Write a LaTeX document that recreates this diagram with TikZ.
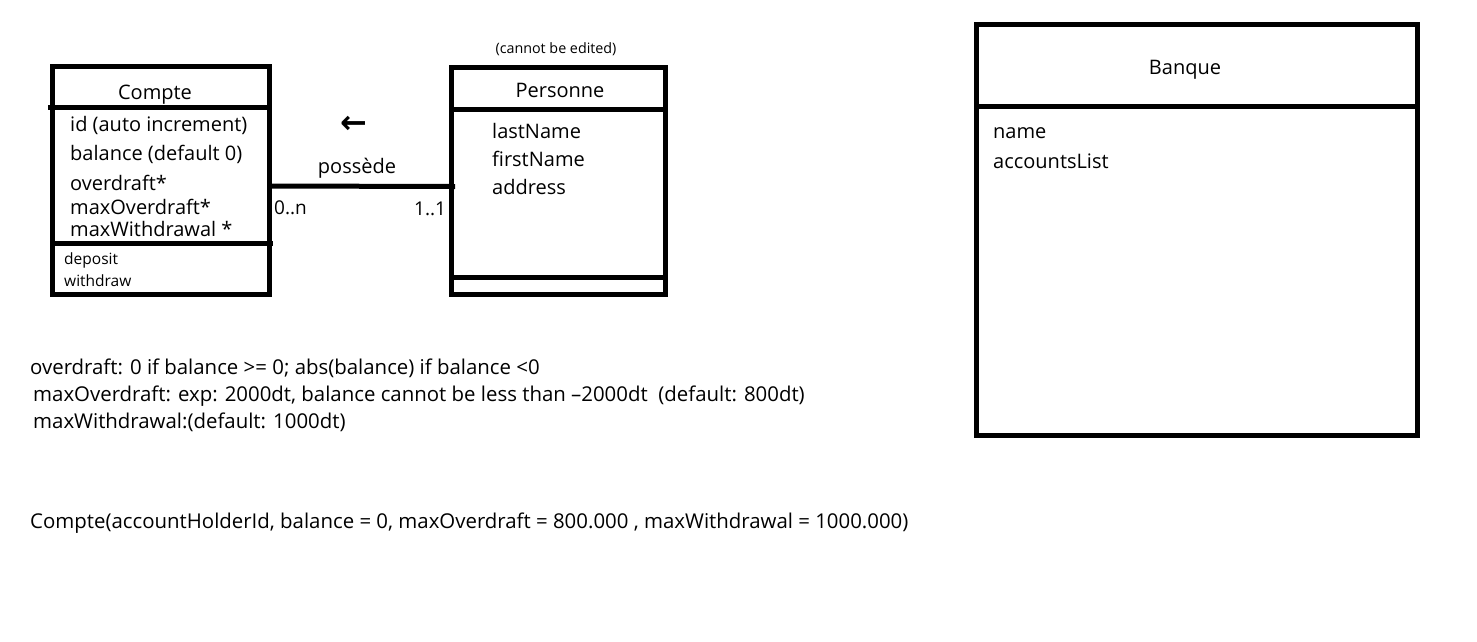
\documentclass[tikz,border=0pt]{standalone}
\usepackage{fontspec}
\setmainfont{Open Sans}
\newfontfamily\symfont{DejaVu Sans}
\begin{document}
\begin{tikzpicture}[x=1pt,y=-1pt,
  umlbox/.style={draw,line width=5pt,rectangle,inner sep=0pt,outer sep=0pt,anchor=north west},
  divider/.style={line width=5pt},
  assoc/.style={line width=5pt},
  title/.style={inner sep=0pt,font=\fontsize{20}{23}\selectfont},
  attr/.style={inner sep=0pt,anchor=west,font=\fontsize{20}{23}\selectfont},
  meth/.style={inner sep=0pt,anchor=west,font=\fontsize{15.5}{18}\selectfont},
  note/.style={inner sep=0pt,anchor=west,font=\fontsize{20.4}{23}\selectfont},
  mult/.style={inner sep=0pt,anchor=west,font=\fontsize{19}{22}\selectfont}]
\useasboundingbox (0,0) rectangle (1477,641);
\fill[white] (0,0) rectangle (1477,641);

% class Compte
\node[umlbox,minimum width=217pt,minimum height=228pt] (compte) at (52,66) {};
\draw[divider] ([xshift=-4pt]compte.west |- 0,107) -- ([xshift=3pt]compte.east |- 0,107);
\draw[divider] (compte.west |- 0,243) -- ([xshift=4pt]compte.east |- 0,243);
\node[title] (comptetitle) at (155,95) {Compte};
\node[attr] (cid) at (70,125) {id (auto increment)};
\node[attr] (cbal) at (70,154) {balance (default 0)};
\node[attr] (cover) at (70,183) {overdraft*};
\node[attr] (cmaxo) at (70,207) {maxOverdraft*};
\node[attr] (cmaxw) at (70,229) {maxWithdrawal *};
\node[meth] (cdep) at (64,260) {deposit};
\node[meth] (cwit) at (64,281) {withdraw};

% class Personne
\node[umlbox,minimum width=214pt,minimum height=227pt] (personne) at (451,67) {};
\draw[divider] (personne.west |- 0,109) -- (personne.east |- 0,109);
\draw[divider] (personne.west |- 0,277) -- (personne.east |- 0,277);
\node[inner sep=0pt,font=\fontsize{14.3}{16}\selectfont] (locked) at (556,49) {(cannot be edited)};
\node[title] (personnetitle) at (560,90) {Personne};
\node[attr] (plast) at (492,131) {lastName};
\node[attr] (pfirst) at (492,159) {firstName};
\node[attr] (paddr) at (492,187) {address};

% association
\draw[assoc] ([yshift=-6pt]compte.east) -- ([yshift=-6pt,xshift=4pt]personne.west);
\node[inner sep=0pt,font=\fontsize{20}{23}\selectfont] (assocname) at (357,168) {possède};
\node[inner sep=0pt,font=\symfont\bfseries\fontsize{32}{34}\selectfont] (readdir) at (354,125) {←};
\node[mult] (multc) at (274,208) {0..n};
\node[mult] (multp) at (414,209) {1..1};

% class Banque
\node[umlbox,minimum width=441pt,minimum height=411pt] (banque) at (976,24) {};
\draw[divider] (banque.west |- 0,106) -- (banque.east |- 0,106);
\node[title] (banquetitle) at (1185,70) {Banque};
\node[attr] (bname) at (993,133) {name};
\node[attr] (blist) at (993,161) {accountsList};

% notes
\node[note] (n1) at (30,368) {overdraft: 0 if balance >= 0; abs(balance) if balance <0};
\node[note] (n2) at (33,396) {maxOverdraft: exp: 2000dt, balance cannot be less than –2000dt\ \ (default: 800dt)};
\node[note] (n3) at (33,422) {maxWithdrawal:(default: 1000dt)};
\node[note] (ctor) at (30,523) {Compte(accountHolderId, balance = 0, maxOverdraft = 800.000 , maxWithdrawal = 1000.000)};
\end{tikzpicture}
\end{document}
